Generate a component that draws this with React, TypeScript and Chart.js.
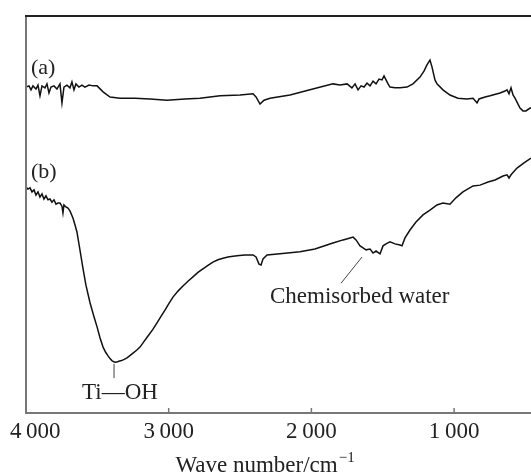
import React, { useEffect, useRef } from "react";
import { Chart, registerables } from "chart.js";

Chart.register(...registerables);

// Wave numbers (cm^-1) and transmittance (a.u.)
const waveA = [4000, 3979, 3965, 3951, 3930, 3916, 3902, 3888, 3867, 3853, 3839, 3825, 3804, 3783, 3762, 3748, 3734, 3713, 3692, 3678, 3664, 3650, 3629, 3608, 3587, 3558, 3530, 3502, 3460, 3411, 3341, 3236, 3131, 3012, 2886, 2781, 2640, 2500, 2409, 2388, 2360, 2332, 2290, 2150, 2010, 1849, 1800, 1750, 1716, 1694, 1673, 1652, 1631, 1610, 1589, 1568, 1547, 1526, 1505, 1491, 1477, 1463, 1449, 1414, 1379, 1330, 1288, 1239, 1211, 1190, 1169, 1155, 1134, 1120, 1078, 1029, 973, 910, 867, 839, 825, 783, 748, 678, 643, 629, 615, 601, 587, 573, 552, 538, 517, 496, 468, 454];
const transA = [82.1, 82.4, 81.4, 82.4, 81.6, 82.6, 79.9, 82.4, 81.9, 82.9, 80.6, 82.1, 82.4, 81.6, 82.9, 78.1, 82.1, 82.6, 81.9, 83.4, 81.4, 82.9, 82.1, 82.6, 82.1, 82.6, 82.4, 82.4, 80.9, 79.6, 79.3, 79.3, 79.1, 78.8, 79.1, 79.3, 79.9, 80.1, 80.4, 79.6, 77.8, 78.8, 79.3, 80.1, 81.4, 82.9, 82.6, 82.9, 81.9, 82.9, 81.4, 82.4, 82.1, 83.1, 82.4, 83.6, 82.9, 84.1, 83.9, 84.9, 83.9, 82.9, 82.1, 81.9, 81.9, 82.1, 82.9, 84.6, 86.1, 87.7, 88.9, 87.2, 83.9, 82.9, 81.4, 80.1, 79.3, 79.1, 79.3, 78.1, 79.1, 79.6, 79.9, 80.6, 81.1, 81.4, 80.4, 81.9, 80.1, 79.3, 77.8, 76.8, 76.1, 76.1, 76.8, 76.8];

const waveB = [4000, 3986, 3972, 3958, 3944, 3930, 3916, 3902, 3888, 3874, 3860, 3846, 3832, 3818, 3804, 3790, 3776, 3762, 3748, 3741, 3734, 3720, 3706, 3692, 3671, 3657, 3643, 3622, 3601, 3580, 3551, 3523, 3502, 3481, 3460, 3442, 3425, 3411, 3398, 3385, 3372, 3358, 3344, 3330, 3312, 3292, 3270, 3250, 3225, 3201, 3175, 3145, 3112, 3082, 3055, 3026, 2998, 2970, 2935, 2900, 2865, 2830, 2795, 2760, 2725, 2690, 2655, 2619, 2585, 2549, 2505, 2465, 2409, 2388, 2367, 2353, 2339, 2311, 2220, 2080, 1975, 1849, 1778, 1729, 1708, 1687, 1659, 1638, 1617, 1589, 1568, 1547, 1519, 1498, 1477, 1449, 1414, 1379, 1365, 1344, 1309, 1267, 1218, 1169, 1120, 1078, 1029, 987, 938, 867, 818, 762, 713, 657, 629, 615, 601, 559, 510, 461];
const transB = [56.9, 56.4, 56.7, 55.7, 56.2, 54.9, 55.7, 54.4, 55.2, 53.9, 54.7, 53.7, 53.9, 53.1, 53.7, 52.6, 52.9, 52.9, 52.1, 50.4, 52.4, 51.9, 51.6, 50.9, 49.1, 47.4, 45.6, 41.1, 36.5, 32.2, 27.7, 24.2, 21.7, 18.9, 16.6, 15.3, 14.4, 13.7, 13.2, 12.9, 12.8, 12.9, 13.1, 13.2, 13.5, 13.9, 14.5, 15.1, 15.8, 16.6, 17.9, 19.4, 21.0, 22.7, 24.3, 25.9, 27.6, 29.2, 30.7, 32.0, 33.2, 34.3, 35.4, 36.3, 37.2, 38.0, 38.6, 39.0, 39.3, 39.5, 39.7, 39.8, 39.8, 39.3, 37.5, 37.3, 38.8, 39.8, 40.1, 40.6, 41.3, 42.8, 43.6, 44.1, 44.3, 43.6, 42.1, 41.6, 41.1, 41.3, 40.3, 40.8, 40.1, 42.1, 42.6, 43.1, 42.6, 42.3, 42.1, 44.1, 46.1, 48.1, 49.9, 51.1, 52.4, 52.9, 52.6, 54.2, 55.7, 57.2, 57.4, 58.2, 58.7, 59.7, 60.0, 59.2, 60.0, 61.7, 63.0, 64.2];

const tickValues = [4000, 3000, 2000, 1000];
const tickLabels = ["4\u2009000", "3\u2009000", "2\u2009000", "1\u2009000"];
const xTitle = "Wave number/cm";
const xTitleSup = "\u22121";
const seriesLabels = ["(a)", "(b)"];
const peakLabel = "Ti\u2014OH";
const waterLabel = "Chemisorbed water";

const FONT = "'Liberation Serif', 'Times New Roman', serif";

const overlay = {
  id: "overlay",
  afterDraw(chart: any) {
    const { ctx, chartArea, scales } = chart;
    const x = scales.x;
    const y = scales.y;
    ctx.save();
    // frame
    ctx.lineWidth = 2;
    ctx.strokeStyle = "#777";
    ctx.beginPath();
    ctx.moveTo(chartArea.left, chartArea.top);
    ctx.lineTo(chartArea.left, chartArea.bottom);
    ctx.lineTo(chartArea.right, chartArea.bottom);
    ctx.stroke();
    ctx.strokeStyle = "#222";
    ctx.beginPath();
    ctx.moveTo(chartArea.left - 1, chartArea.top);
    ctx.lineTo(chartArea.right, chartArea.top);
    ctx.stroke();
    // ticks
    ctx.lineWidth = 1.5;
    ctx.strokeStyle = "#777";
    tickValues.forEach((v, i) => {
      if (i === 0) return;
      const px = x.getPixelForValue(v);
      ctx.beginPath();
      ctx.moveTo(px, chartArea.bottom);
      ctx.lineTo(px, chartArea.bottom - 5);
      ctx.stroke();
    });
    // tick labels
    ctx.fillStyle = "#222";
    ctx.font = `23px ${FONT}`;
    ctx.textAlign = "center";
    ctx.textBaseline = "alphabetic";
    tickValues.forEach((v, i) => {
      const w = ctx.measureText(tickLabels[i]).width;
      const px = Math.max(x.getPixelForValue(v), 10 + w / 2);
      ctx.fillText(tickLabels[i], px, chartArea.bottom + 25);
    });
    // axis title
    ctx.font = `23px ${FONT}`;
    const tw = ctx.measureText(xTitle).width;
    ctx.font = `15px ${FONT}`;
    const sw = ctx.measureText(xTitleSup).width;
    const cx = x.getPixelForValue(2325);
    const startX = cx - (tw + sw + 1) / 2;
    ctx.textAlign = "left";
    ctx.font = `23px ${FONT}`;
    ctx.fillText(xTitle, startX, chartArea.bottom + 59);
    ctx.font = `15px ${FONT}`;
    ctx.fillText(xTitleSup, startX + tw + 1, chartArea.bottom + 49);

    // series labels
    ctx.font = `22px ${FONT}`;
    ctx.textBaseline = "middle";
    ctx.fillText(seriesLabels[0], x.getPixelForValue(3965), y.getPixelForValue(86.9));
    ctx.fillText(seriesLabels[1], x.getPixelForValue(3965), y.getPixelForValue(60.7));

    // Ti-OH annotation
    ctx.strokeStyle = "#444";
    ctx.lineWidth = 1;
    ctx.beginPath();
    ctx.moveTo(x.getPixelForValue(3383), y.getPixelForValue(12.4));
    ctx.lineTo(x.getPixelForValue(3383), y.getPixelForValue(8.8));
    ctx.stroke();
    ctx.font = `23px ${FONT}`;
    ctx.textAlign = "center";
    ctx.fillText(peakLabel, x.getPixelForValue(3341), y.getPixelForValue(5.0));

    // chemisorbed water annotation
    ctx.beginPath();
    ctx.moveTo(x.getPixelForValue(1792), y.getPixelForValue(32.7));
    ctx.lineTo(x.getPixelForValue(1645), y.getPixelForValue(39.3));
    ctx.stroke();
    ctx.textAlign = "left";
    ctx.fillText(waterLabel, x.getPixelForValue(2290), y.getPixelForValue(29.2));
    ctx.restore();
  },
};

export default function App() {
  const ref = useRef<HTMLCanvasElement | null>(null);
  useEffect(() => {
    if (!ref.current) return;
    const chart = new Chart(ref.current, {
      type: "line",
      data: {
        datasets: [
          {
            label: "(a)",
            data: waveA.map((w, i) => ({ x: w, y: transA[i] })),
            borderColor: "#111",
            borderWidth: 1.5,
            pointRadius: 0,
            tension: 0,
          },
          {
            label: "(b)",
            data: waveB.map((w, i) => ({ x: w, y: transB[i] })),
            borderColor: "#111",
            borderWidth: 1.5,
            pointRadius: 0,
            tension: 0,
          },
        ],
      },
      options: {
        responsive: false,
        animation: false,
        devicePixelRatio: 1,
        layout: { padding: { left: 26, top: 16, right: 0, bottom: 61 } },
        plugins: { legend: { display: false }, tooltip: { enabled: false } },
        scales: {
          x: { type: "linear", reverse: true, min: 461, max: 4000, display: false },
          y: { type: "linear", min: 0, max: 100, display: false },
        },
      },
      plugins: [overlay],
    });
    return () => chart.destroy();
  }, []);
  return (
    <div style={{ position: "fixed", left: 0, top: 0, width: 531, height: 474, background: "#fff" }}>
      <canvas ref={ref} width={531} height={474} style={{ width: 531, height: 474 }} />
    </div>
  );
}
